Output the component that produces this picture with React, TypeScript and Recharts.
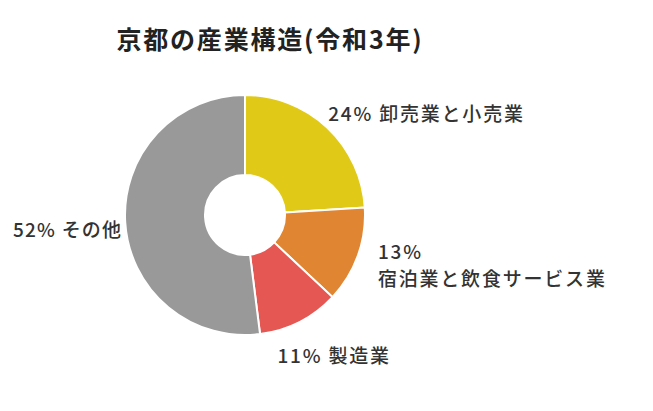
import React from 'react';
import { PieChart, Pie, Cell } from 'recharts';

const industries = ['卸売業と小売業', '宿泊業と飲食サービス業', '製造業', 'その他'];
const shares = [24, 13, 11, 52];
const colors = ['#E0CA17', '#E08531', '#E55753', '#999999'];

const data = industries.map((name, i) => ({ name, value: shares[i] }));

const RADIAN = Math.PI / 180;
const textStyle = {
  fontFamily: '"Noto Sans CJK JP", "Noto Sans", sans-serif',
  fontSize: 19,
  fontWeight: 500,
  letterSpacing: 1.8,
  fill: '#333',
};

const renderLabel = (props: any) => {
  const { cx, cy, midAngle, outerRadius, index, name, value } = props;
  const x = cx + outerRadius * Math.cos(-midAngle * RADIAN);
  const y = cy + outerRadius * Math.sin(-midAngle * RADIAN);
  const pct = `${value}%`;

  if (index === 0) {
    return (
      <text x={x + 1} y={y - 15} dominantBaseline="central" style={textStyle}>
        {pct} {name}
      </text>
    );
  }
  if (index === 1) {
    return (
      <text x={x + 20} y={y - 6} dominantBaseline="central" style={textStyle}>
        <tspan x={x + 20}>{pct}</tspan>
        <tspan x={x + 20} dy={27}>{name}</tspan>
      </text>
    );
  }
  if (index === 2) {
    return (
      <text x={x - 22} y={y + 33} dominantBaseline="central" style={textStyle}>
        {pct} {name}
      </text>
    );
  }
  return (
    <text x={x - 3} y={y + 5.5} textAnchor="end" dominantBaseline="central" style={{ ...textStyle, letterSpacing: 1.2 }}>
      {pct} {name}
    </text>
  );
};

const App: React.FC = () => {
  return (
    <div style={{ position: 'absolute', left: 0, top: 0, width: 653, height: 411, background: '#fff' }}>
      <div
        style={{
          position: 'absolute',
          left: 0,
          width: 540,
          top: 21,
          textAlign: 'center',
          fontFamily: '"Noto Sans CJK JP", "Noto Sans", sans-serif',
          fontWeight: 700,
          fontSize: 25,
          lineHeight: '34px',
          color: '#222',
          letterSpacing: 1.8,
        }}
      >
        京都の産業構造(令和3年)
      </div>
      <PieChart width={653} height={411} margin={{ top: 0, right: 0, bottom: 0, left: 0 }}>
        <Pie
          data={data}
          dataKey="value"
          nameKey="name"
          cx={245}
          cy={215}
          innerRadius={40}
          outerRadius={120}
          startAngle={90}
          endAngle={-270}
          stroke="#fff"
          strokeWidth={2}
          label={renderLabel}
          labelLine={false}
          isAnimationActive={false}
        >
          {data.map((d, i) => (
            <Cell key={d.name} fill={colors[i]} />
          ))}
        </Pie>
      </PieChart>
    </div>
  );
};

export default App;
